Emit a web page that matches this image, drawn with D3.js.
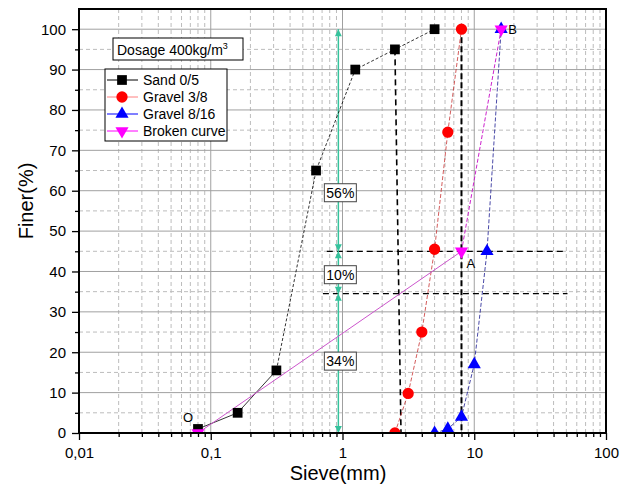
<!DOCTYPE html>
<html>
<head>
<meta charset="utf-8">
<script src="https://cdn.jsdelivr.net/npm/d3@7"></script>
<style>
  body { margin: 0; background: #fff; }
  text { font-family: Arial, "Liberation Sans", sans-serif; }
</style>
</head>
<body>
<div id="chart"></div>
<script>
// sieve sizes (mm) and passing (%)
const sandSieve = [0.08, 0.16, 0.315, 0.63, 1.25, 2.5, 5];
const sandPass = [1, 5, 15.5, 65, 90, 95, 100];
const g38Sieve = [2.5, 3.15, 4, 5, 6.3, 8];
const g38Pass = [0, 9.8, 25, 45.5, 74.5, 100];
const g816Sieve = [5, 6.3, 8, 10, 12.5, 16];
const g816Pass = [0, 1, 4, 17, 45, 100];
const brokenSieve = [0.08, 8, 16];
const brokenPass = [0, 45, 100];
const brokenLabels = ["O", "A", "B"];

// arrow levels and shares
const arrowLevels = [100, 45, 34.5, 0];
const shareLabels = ["56%", "10%", "34%"];
const shareAt = [59.5, 39.2, 17.8];

const xTicks = [0.01, 0.1, 1, 10, 100];
const yTicks = d3.range(0, 101, 10);

const width = 630, height = 486;
const plotLeft = 79, plotRight = 606, plotTop = 9, plotBottom = 433;

const svg = d3.select("#chart").append("svg")
    .attr("width", width)
    .attr("height", height)
    .style("background", "#fff");

const x = d3.scaleLog().domain([0.01, 100]).range([plotLeft, plotRight]);
const y = d3.scaleLinear().domain([0, 105]).range([plotBottom, plotTop]);

const defs = svg.append("defs");
defs.append("clipPath").attr("id", "plot")
    .append("rect").attr("x", plotLeft).attr("y", plotTop)
    .attr("width", plotRight - plotLeft).attr("height", plotBottom - plotTop);

defs.append("marker")
    .attr("id", "arr")
    .attr("viewBox", "0 0 10 10")
    .attr("refX", 10).attr("refY", 5)
    .attr("markerWidth", 10).attr("markerHeight", 7)
    .attr("markerUnits", "userSpaceOnUse")
    .attr("orient", "auto-start-reverse")
    .append("path").attr("d", "M0,0L10,5L0,10Z").attr("fill", "#35c29c");

// grid: minor dashed
const minorX = [];
[0.01, 0.1, 1, 10].forEach(d => { for (let k = 2; k <= 9; k++) minorX.push(d * k); });
const majorX = [0.1, 1, 10];
const minorY = d3.range(5, 101, 10);

const grid = svg.append("g");
grid.selectAll(".mx").data(minorX).enter().append("line")
    .attr("x1", d => x(d)).attr("x2", d => x(d))
    .attr("y1", plotTop).attr("y2", plotBottom)
    .attr("stroke", "#bcbcbc").attr("stroke-width", 1)
    .attr("stroke-dasharray", "4,3");
grid.selectAll(".my").data(minorY).enter().append("line")
    .attr("x1", plotLeft).attr("x2", plotRight)
    .attr("y1", d => y(d)).attr("y2", d => y(d))
    .attr("stroke", "#bcbcbc").attr("stroke-width", 1)
    .attr("stroke-dasharray", "4,3");
grid.selectAll(".Mx").data(majorX).enter().append("line")
    .attr("x1", d => x(d)).attr("x2", d => x(d))
    .attr("y1", plotTop).attr("y2", plotBottom)
    .attr("stroke", "#a0a0a0").attr("stroke-width", 1);
grid.selectAll(".My").data(yTicks.slice(1)).enter().append("line")
    .attr("x1", plotLeft).attr("x2", plotRight)
    .attr("y1", d => y(d)).attr("y2", d => y(d))
    .attr("stroke", "#a0a0a0").attr("stroke-width", 1);

// annotation lines
const ann = svg.append("g");
ann.append("line")
    .attr("x1", x(2.5)).attr("y1", y(95))
    .attr("x2", x(2.78)).attr("y2", y(0))
    .attr("stroke", "#000").attr("stroke-width", 1.6)
    .attr("stroke-dasharray", "6,4");
ann.append("line")
    .attr("x1", x(8)).attr("y1", y(98))
    .attr("x2", x(8)).attr("y2", y(0))
    .attr("stroke", "#000").attr("stroke-width", 2)
    .attr("stroke-dasharray", "6,3");
ann.append("line")
    .attr("x1", x(0.76)).attr("x2", x(50))
    .attr("y1", y(45)).attr("y2", y(45))
    .attr("stroke", "#000").attr("stroke-width", 1.2)
    .attr("stroke-dasharray", "6,4");
ann.append("line")
    .attr("x1", x(0.71)).attr("x2", x(51))
    .attr("y1", y(34.5)).attr("y2", y(34.5))
    .attr("stroke", "#000").attr("stroke-width", 1.2)
    .attr("stroke-dasharray", "6,4");

// double arrows
const arrowX = x(0.93);
for (let i = 0; i < arrowLevels.length - 1; i++) {
    ann.append("line")
        .attr("x1", arrowX).attr("x2", arrowX)
        .attr("y1", y(arrowLevels[i])).attr("y2", y(arrowLevels[i + 1]))
        .attr("stroke", "#35c29c").attr("stroke-width", 1.5)
        .attr("marker-start", "url(#arr)")
        .attr("marker-end", "url(#arr)");
}

// series
const line = d3.line().x(d => x(d[0])).y(d => y(d[1]));
const zip = (a, b) => a.map((v, i) => [v, b[i]]);
const plot = svg.append("g").attr("clip-path", "url(#plot)");

const sand = zip(sandSieve, sandPass);
plot.append("path").datum(sand.slice(0, 3)).attr("d", line)
    .attr("fill", "none").attr("stroke", "#000").attr("stroke-width", 0.8);
plot.append("path").datum(sand.slice(2)).attr("d", line)
    .attr("fill", "none").attr("stroke", "#000").attr("stroke-width", 0.8)
    .attr("stroke-dasharray", "3,2");
plot.append("path").datum(zip(g38Sieve, g38Pass)).attr("d", line)
    .attr("fill", "none").attr("stroke", "#c83232").attr("stroke-width", 0.8)
    .attr("stroke-dasharray", "4,2");
plot.append("path").datum(zip(g816Sieve, g816Pass)).attr("d", line)
    .attr("fill", "none").attr("stroke", "#1a1a90").attr("stroke-width", 0.8)
    .attr("stroke-dasharray", "4,2");
const broken = zip(brokenSieve, brokenPass);
plot.append("path").datum(broken.slice(0, 2)).attr("d", line)
    .attr("fill", "none").attr("stroke", "#cc55cc").attr("stroke-width", 1);
plot.append("path").datum(broken.slice(1)).attr("d", line)
    .attr("fill", "none").attr("stroke", "#cc22cc").attr("stroke-width", 1)
    .attr("stroke-dasharray", "4,2");

const sym = {
    square: d3.symbol().type(d3.symbolSquare).size(95),
    circle: d3.symbol().type(d3.symbolCircle).size(100),
    up: d3.symbol().type(d3.symbolTriangle).size(75),
    down: d3.symbol().type(d3.symbolTriangle).size(75)
};

function drawMarkers(g, data, shape, color, rot) {
    g.selectAll(null).data(data).enter().append("path")
        .attr("d", sym[shape]())
        .attr("transform", d => `translate(${x(d[0])},${y(d[1])})` + (rot ? " rotate(180)" : ""))
        .attr("fill", color);
}
drawMarkers(plot, sand, "square", "#000");
drawMarkers(plot, zip(g38Sieve, g38Pass), "circle", "#ff0000");
drawMarkers(plot, zip(g816Sieve, g816Pass), "up", "#0000ff");
drawMarkers(plot, broken, "down", "#ff00ff", true);

// point labels
svg.selectAll(".plab").data(broken).enter().append("text")
    .attr("x", (d, i) => x(d[0]) + [-10, 5, 7][i])
    .attr("y", (d, i) => y(d[1]) + [-11, 17, 5][i])
    .attr("text-anchor", (d, i) => i === 0 ? "middle" : "start")
    .attr("font-size", 13)
    .text((d, i) => brokenLabels[i]);

// share boxes
shareLabels.forEach((s, i) => {
    const g = svg.append("g").attr("transform", `translate(${arrowX + 2},${y(shareAt[i])})`);
    g.append("rect").attr("x", -16).attr("y", -9).attr("width", 32).attr("height", 18)
        .attr("fill", "#fff").attr("stroke", "#444").attr("stroke-width", 1);
    g.append("text").attr("text-anchor", "middle").attr("y", 5)
        .attr("font-size", 14).text(s);
});

// axes
svg.append("g").attr("transform", `translate(${plotLeft},0)`)
    .call(d3.axisLeft(y).tickValues(yTicks).tickSize(7).tickPadding(6));
svg.append("g").attr("transform", `translate(${plotLeft},0)`)
    .call(d3.axisLeft(y).tickValues(minorY).tickSize(4).tickFormat(""));
svg.append("g").attr("transform", `translate(0,${plotBottom})`)
    .call(d3.axisBottom(x).tickValues(xTicks).tickSize(7).tickPadding(7)
        .tickFormat(d => String(d).replace(".", ",")));
svg.append("g").attr("transform", `translate(0,${plotBottom})`)
    .call(d3.axisBottom(x).tickValues(minorX).tickSize(4).tickFormat(""));

svg.selectAll(".tick line").attr("stroke", "#000").attr("stroke-width", 1.3);
svg.selectAll(".tick text").attr("font-size", 15).attr("fill", "#000")
    .attr("font-family", "Arial, 'Liberation Sans', sans-serif");
svg.selectAll(".domain").remove();

// frame
svg.append("rect").attr("x", plotLeft).attr("y", plotTop)
    .attr("width", plotRight - plotLeft).attr("height", plotBottom - plotTop)
    .attr("fill", "none").attr("stroke", "#000").attr("stroke-width", 2);

// axis titles
svg.append("text").attr("x", 338).attr("y", 480)
    .attr("text-anchor", "middle").attr("font-size", 20).text("Sieve(mm)");
svg.append("text").attr("transform", "translate(33,201) rotate(-90)")
    .attr("text-anchor", "middle").attr("font-size", 20).text("Finer(%)");

// dosage box
const dos = svg.append("g");
dos.append("rect").attr("x", 113).attr("y", 38).attr("width", 130).attr("height", 22)
    .attr("fill", "#fff").attr("stroke", "#000").attr("stroke-width", 1);
const dt = dos.append("text").attr("x", 117).attr("y", 55).attr("font-size", 14);
dt.append("tspan").text("Dosage 400kg/m");
dt.append("tspan").attr("dy", -6).attr("font-size", 9).text("3");

// legend
const legendNames = ["Sand 0/5", "Gravel 3/8", "Gravel 8/16", "Broken curve"];
const legendShapes = ["square", "circle", "up", "down"];
const legendColors = ["#000", "#ff0000", "#0000ff", "#ff00ff"];
const legendLines = ["#000", "#ff8080", "#0000ff", "#ff00ff"];
const leg = svg.append("g");
leg.append("rect").attr("x", 105).attr("y", 69).attr("width", 122).attr("height", 72)
    .attr("fill", "#fff").attr("stroke", "#000").attr("stroke-width", 1);
legendNames.forEach((n, i) => {
    const yy = 80 + i * 17;
    leg.append("line").attr("x1", 107).attr("x2", 138).attr("y1", yy).attr("y2", yy)
        .attr("stroke", legendLines[i]).attr("stroke-width", 1);
    leg.append("path").attr("d", sym[legendShapes[i]]())
        .attr("transform", `translate(122,${yy})` + (legendShapes[i] === "down" ? " rotate(180)" : ""))
        .attr("fill", legendColors[i]);
    leg.append("text").attr("x", 143).attr("y", yy + 5).attr("font-size", 14).text(n);
});
</script>
</body>
</html>
